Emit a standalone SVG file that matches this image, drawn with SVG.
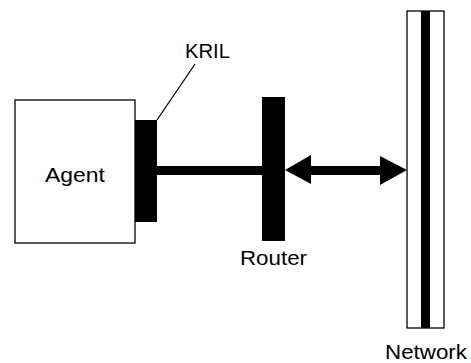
<svg xmlns="http://www.w3.org/2000/svg" width="471" height="363" viewBox="0 0 471 363">
<style>
.lbl{font-family:"Liberation Sans",Arial,sans-serif;font-size:21px;fill:#000}
.box{fill:#fff;stroke:#000;stroke-width:1.3}
.solid{fill:#000}
</style>
<rect width="471" height="363" fill="#fff"/>
<g id="agent">
<rect class="box" x="15" y="100" width="120" height="143"/>
<text class="lbl" x="45" y="182" textLength="60" lengthAdjust="spacingAndGlyphs">Agent</text>
</g>
<g id="kril">
<rect class="solid" x="135" y="120" width="22" height="102"/>
<text class="lbl" x="185" y="58" textLength="45" lengthAdjust="spacingAndGlyphs">KRIL</text>
</g>
<g id="router">
<rect class="solid" x="262" y="97" width="23" height="144"/>
<text class="lbl" x="240" y="265" textLength="67" lengthAdjust="spacingAndGlyphs">Router</text>
</g>
<g id="network">
<rect class="box" x="407" y="11" width="37" height="317"/>
<rect class="solid" x="421" y="11" width="9" height="317"/>
<text class="lbl" x="385" y="359" textLength="82" lengthAdjust="spacingAndGlyphs">Network</text>
</g>
<g id="connectors">
<line x1="157" y1="120" x2="195" y2="64" stroke="#000" stroke-width="1.3"/>
<rect class="solid" x="157" y="166" width="105" height="9"/>
<rect class="solid" x="310" y="166" width="71" height="9"/>
<polygon class="solid" points="285,170 311,155 311,184"/>
<polygon class="solid" points="407,170 380,156 380,185"/>
</g>
</svg>
